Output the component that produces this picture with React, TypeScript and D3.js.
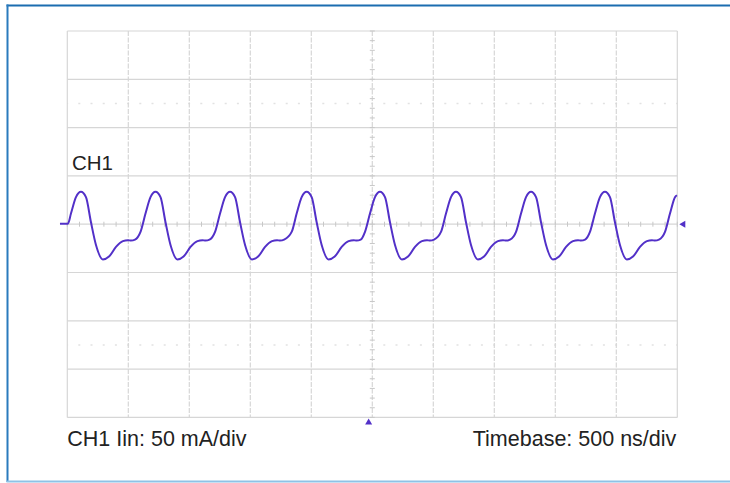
import React, { useEffect, useRef } from 'react';
import * as d3 from 'd3';

// Scope settings
const timePerDiv = 500; // ns
const currentPerDiv = 50; // mA
const hDivs = 10;
const vDivs = 8;

// Trace: time (ns, 0 = centre) and current (mA)
const traceTime: number[] = [
    -2560, -2495, -2470, -2429,
    -2388, -2347, -2306, -2265, -2208, -2158, -2101, -2044, -2003, -1978, -1945,
    -1900, -1859, -1818,
    -1777, -1736, -1695, -1654, -1597, -1547, -1490, -1433, -1392, -1367, -1334,
    -1289, -1248, -1207,
    -1166, -1125, -1084, -1043, -986, -936, -879, -822, -781, -756, -723,
    -661, -620, -579,
    -538, -497, -456, -415, -358, -308, -251, -194, -153, -128, -95,
    -60, -19, 22,
    63, 104, 145, 186, 243, 293, 350, 407, 448, 473, 506,
    563, 604, 645,
    686, 727, 768, 809, 866, 916, 973, 1030, 1071, 1096, 1129,
    1178, 1219, 1260,
    1301, 1342, 1383, 1424, 1481, 1531, 1588, 1645, 1686, 1711, 1744,
    1784, 1825, 1866,
    1907, 1948, 1989, 2030, 2087, 2137, 2194, 2251, 2292, 2317, 2350,
    2399, 2440, 2481, 2497
];
const traceCurrent: number[] = [
    0.5, 0.5, 11, 28,
    33.5, 28, 2, -21.5, -36.5, -33.5, -23.5, -17.5, -16.5, -17, -16,
    -8, 11, 28,
    33.5, 28, 2, -21.5, -36.5, -33.5, -23.5, -17.5, -16.5, -17, -16,
    -8, 11, 28,
    33.5, 28, 2, -21.5, -36.5, -33.5, -23.5, -17.5, -16.5, -17, -16,
    -8, 11, 28,
    33.5, 28, 2, -21.5, -36.5, -33.5, -23.5, -17.5, -16.5, -17, -16,
    -8, 11, 28,
    33.5, 28, 2, -21.5, -36.5, -33.5, -23.5, -17.5, -16.5, -17, -16,
    -8, 11, 28,
    33.5, 28, 2, -21.5, -36.5, -33.5, -23.5, -17.5, -16.5, -17, -16,
    -8, 11, 28,
    33.5, 28, 2, -21.5, -36.5, -33.5, -23.5, -17.5, -16.5, -17, -16,
    -8, 11, 28,
    33.5, 28, 2, -21.5, -36.5, -33.5, -23.5, -17.5, -16.5, -17, -16,
    -8, 11, 28, 30
];

// Labels
const channelLabel = 'CH1';
const verticalLabel = 'CH1 Iin: 50 mA/div';
const timebaseLabel = 'Timebase: 500 ns/div';

const font = '"Liberation Sans", Arial, Helvetica, sans-serif';
const traceColor = '#5230c8';

const Scope: React.FC = () => {
    const ref = useRef<SVGSVGElement>(null);

    useEffect(() => {
        const width = 730;
        const height = 483;
        const left = 67.3;
        const right = 677.3;
        const top = 31;
        const bottom = 417.4;

        const tMax = (timePerDiv * hDivs) / 2;
        const iMax = (currentPerDiv * vDivs) / 2;

        const x = d3.scaleLinear().domain([-tMax, tMax]).range([left, right]);
        const y = d3.scaleLinear().domain([-iMax, iMax]).range([bottom, top]);

        const svg = d3.select(ref.current!);
        svg.selectAll('*').remove();
        svg.attr('width', width).attr('height', height).attr('viewBox', `0 0 ${width} ${height}`);

        svg.append('rect').attr('width', width).attr('height', height).attr('fill', 'white');

        // Blue frame (top, left, bottom)
        svg.append('line').attr('x1', 6.5).attr('x2', width).attr('y1', 5.5).attr('y2', 5.5)
            .attr('stroke', '#1b6db0').attr('stroke-width', 2);
        svg.append('line').attr('x1', 7.5).attr('x2', 7.5).attr('y1', 4.5).attr('y2', 482)
            .attr('stroke', '#2a7bbd').attr('stroke-width', 2);
        svg.append('line').attr('x1', 6.5).attr('x2', width).attr('y1', 481.5).attr('y2', 481.5)
            .attr('stroke', '#8ec2e6').attr('stroke-width', 2);

        const grid = svg.append('g');

        // Faint dotted lines at +/- 2.5 div
        [-2.5, 2.5].forEach((d) => {
            grid.append('line')
                .attr('x1', left).attr('x2', right)
                .attr('y1', y(d * currentPerDiv)).attr('y2', y(d * currentPerDiv))
                .attr('stroke', '#e2e2e2').attr('stroke-width', 1.5)
                .attr('stroke-dasharray', '2 10.2')
                .attr('stroke-dashoffset', -11);
        });

        // Major grid
        const xTicks = d3.range(-tMax, tMax + 1, timePerDiv);
        const yTicks = d3.range(-iMax, iMax + 1, currentPerDiv);
        grid.selectAll('line.v')
            .data(xTicks)
            .join('line')
            .attr('class', 'v')
            .attr('x1', (d) => x(d)).attr('x2', (d) => x(d))
            .attr('y1', top).attr('y2', bottom)
            .attr('stroke', '#d6d6d6')
            .attr('stroke-width', 1.2)
            .attr('stroke-dasharray', (d) => (Math.abs(d) === tMax ? null : '5 1.5'));
        grid.selectAll('line.h')
            .data(yTicks)
            .join('line')
            .attr('class', 'h')
            .attr('x1', left).attr('x2', right)
            .attr('y1', (d) => y(d)).attr('y2', (d) => y(d))
            .attr('stroke', '#d6d6d6')
            .attr('stroke-width', 1.2);

        // Minor ticks on the centre lines (0.2 div)
        const xMinor = d3.range(-tMax, tMax + 1, timePerDiv / 5);
        const yMinor = d3.range(-iMax, iMax + 1, currentPerDiv / 5);
        grid.selectAll('line.xm')
            .data(xMinor)
            .join('line')
            .attr('class', 'xm')
            .attr('x1', (d) => x(d)).attr('x2', (d) => x(d))
            .attr('y1', y(0) - 2.5).attr('y2', y(0) + 2.5)
            .attr('stroke', '#c8c8c8');
        grid.selectAll('line.ym')
            .data(yMinor)
            .join('line')
            .attr('class', 'ym')
            .attr('x1', x(0) - 2.5).attr('x2', x(0) + 2.5)
            .attr('y1', (d) => y(d)).attr('y2', (d) => y(d))
            .attr('stroke', '#c8c8c8');

        // Trace
        const points: [number, number][] = traceTime.map((t, i) => [t, traceCurrent[i]]);
        const line = d3.line<[number, number]>()
            .x((d) => x(d[0]))
            .y((d) => y(d[1]))
            .curve(d3.curveMonotoneX);
        svg.append('path')
            .datum(points)
            .attr('d', line)
            .attr('fill', 'none')
            .attr('stroke', traceColor)
            .attr('stroke-width', 2)
            .attr('stroke-linejoin', 'round');

        // Ground level marker (right) and trigger marker (bottom)
        const gy = y(0);
        svg.append('path')
            .attr('d', `M${right + 2},${gy} L${right + 8},${gy - 3.5} L${right + 8},${gy + 3.5} Z`)
            .attr('fill', traceColor);
        const tx = x(-30);
        svg.append('path')
            .attr('d', `M${tx},${bottom + 1} L${tx - 3.5},${bottom + 7} L${tx + 3.5},${bottom + 7} Z`)
            .attr('fill', traceColor);

        // Labels
        svg.append('text')
            .attr('x', 72).attr('y', 170)
            .attr('font-family', font).attr('font-size', 20.5).attr('fill', '#222')
            .text(channelLabel);
        svg.append('text')
            .attr('x', left).attr('y', 445.5)
            .attr('font-family', font).attr('font-size', 21.5).attr('fill', '#222')
            .text(verticalLabel);
        svg.append('text')
            .attr('x', right - 1).attr('y', 445.5)
            .attr('text-anchor', 'end')
            .attr('font-family', font).attr('font-size', 21.5).attr('fill', '#222')
            .text(timebaseLabel);
    }, []);

    return <svg ref={ref} style={{ position: 'absolute', left: 0, top: 0, display: 'block' }} />;
};

export default function App() {
    return <Scope />;
}
